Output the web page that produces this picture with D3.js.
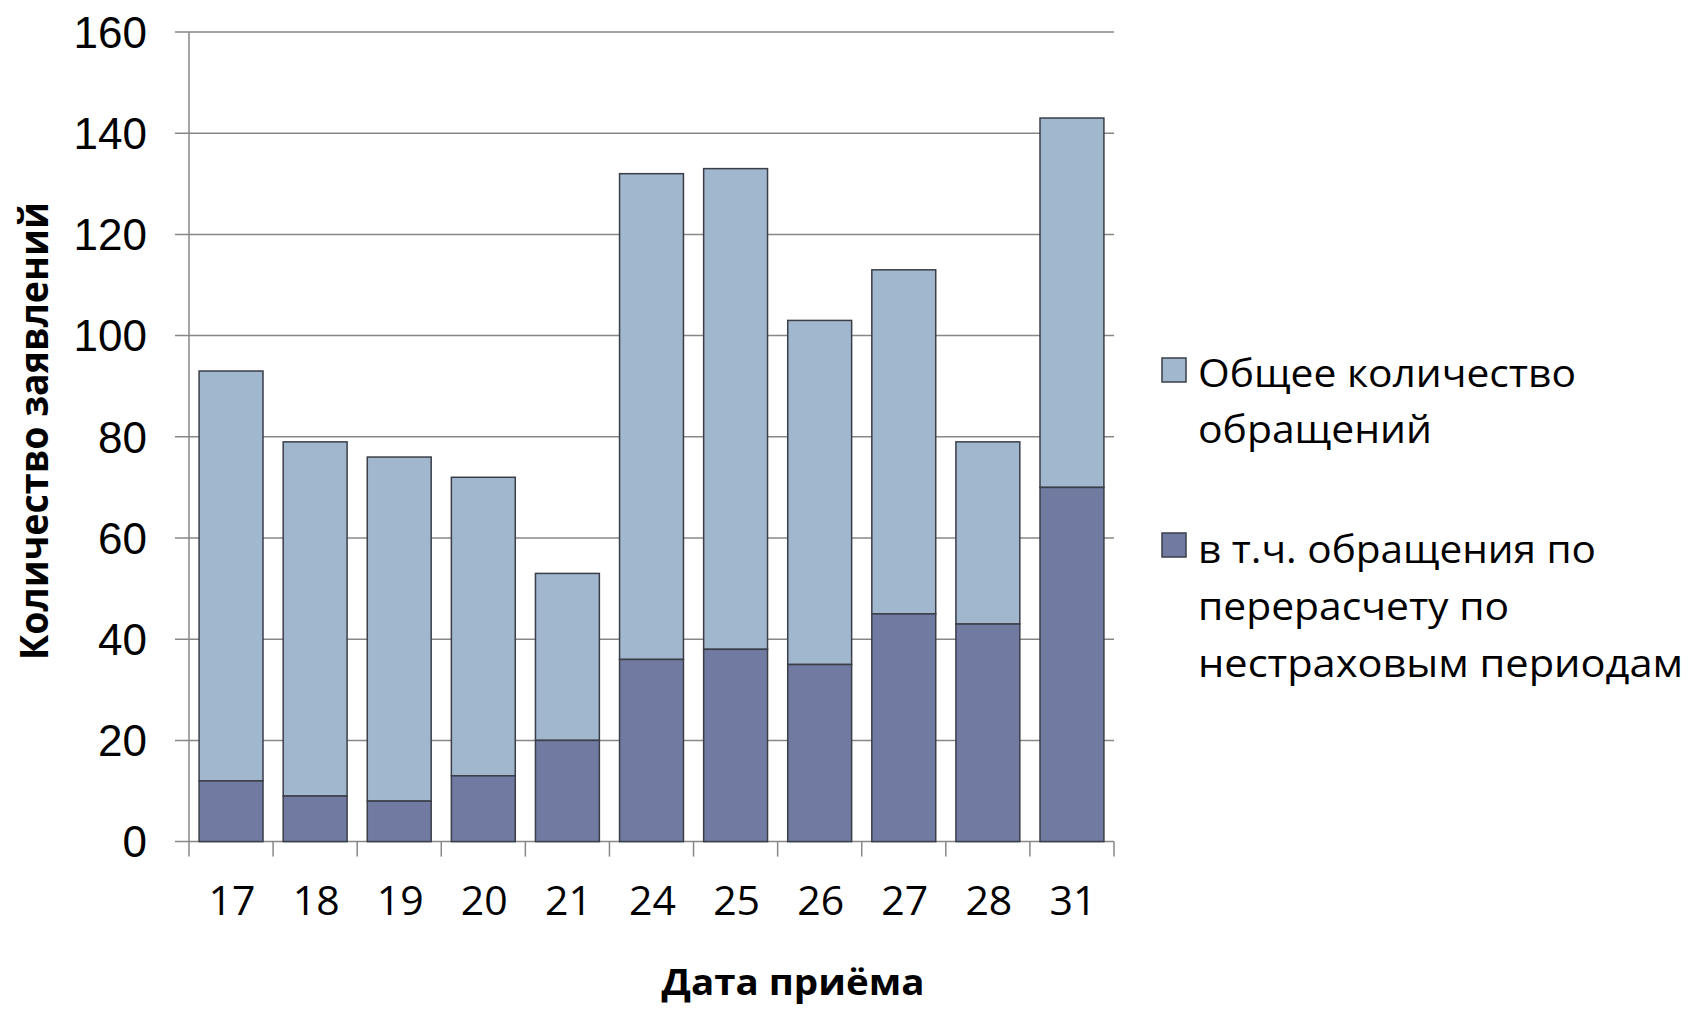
<!DOCTYPE html>
<html>
<head>
<meta charset="utf-8">
<script src="https://cdn.jsdelivr.net/npm/d3@7"></script>
<style>
  html, body { margin: 0; padding: 0; background: #fff; }
  svg { display: block; }
</style>
</head>
<body>
<svg id="chart" width="1691" height="1009"></svg>
<script>
// ---- Data ----
const categories = ["17", "18", "19", "20", "21", "24", "25", "26", "27", "28", "31"];
const totalRequests = [93, 79, 76, 72, 53, 132, 133, 103, 113, 79, 143];
const recalcRequests = [12, 9, 8, 13, 20, 36, 38, 35, 45, 43, 70];
const yTicks = [0, 20, 40, 60, 80, 100, 120, 140, 160];
const seriesNames = ["Общее количество обращений", "в т.ч. обращения по перерасчету по нестраховым периодам"];
const legendLines = [["Общее количество", "обращений"], ["в т.ч. обращения по", "перерасчету по", "нестраховым периодам"]];
const xTitle = "Дата приёма";
const yTitle = "Количество заявлений";

(function () {
// ---- Layout ----
const svg = d3.select("#chart");
const pLeft = 189, pRight = 1114, pTop = 32, pBottom = 841.6;
const colLight = "#A1B7CD", colDark = "#717AA0", stroke = "#3a3e48", gridCol = "#878787";

const x = d3.scaleBand().domain(categories).range([pLeft, pRight]).paddingInner(0.24).paddingOuter(0.12);
const y = d3.scaleLinear().domain([0, 160]).range([pBottom, pTop]);

// gridlines
svg.append("g").selectAll("line").data(yTicks).join("line")
  .attr("x1", pLeft - 14).attr("x2", pRight)
  .attr("y1", d => y(d)).attr("y2", d => y(d))
  .attr("stroke", gridCol).attr("stroke-width", 1.5);

// y axis line
svg.append("line").attr("x1", pLeft).attr("x2", pLeft).attr("y1", y(160)).attr("y2", y(0))
  .attr("stroke", gridCol).attr("stroke-width", 1.5);

// x ticks at band boundaries
const step = x.step();
const xTickPos = d3.range(categories.length + 1).map(i => pLeft + i * step);
svg.append("g").selectAll("line").data(xTickPos).join("line")
  .attr("x1", d => d).attr("x2", d => d)
  .attr("y1", y(0)).attr("y2", y(0) + 15)
  .attr("stroke", gridCol).attr("stroke-width", 1.5);

// y tick labels
svg.append("g").selectAll("text").data(yTicks).join("text")
  .attr("x", pLeft - 42).attr("y", d => y(d)).attr("dy", "0.36em")
  .attr("text-anchor", "end")
  .attr("font-family", "'Liberation Sans', Arial, sans-serif")
  .attr("font-size", 44).attr("fill", "#000")
  .text(d => d);

// bars
const data = categories.map((c, i) => ({ c, total: totalRequests[i], sub: recalcRequests[i] }));
svg.append("g").selectAll("rect").data(data).join("rect")
  .attr("x", d => x(d.c)).attr("width", x.bandwidth())
  .attr("y", d => y(d.total)).attr("height", d => y(d.sub) - y(d.total))
  .attr("fill", colLight).attr("stroke", stroke).attr("stroke-width", 1.5);
svg.append("g").selectAll("rect").data(data).join("rect")
  .attr("x", d => x(d.c)).attr("width", x.bandwidth())
  .attr("y", d => y(d.sub)).attr("height", d => y(0) - y(d.sub))
  .attr("fill", colDark).attr("stroke", stroke).attr("stroke-width", 1.5);

// x tick labels
svg.append("g").selectAll("text").data(categories).join("text")
  .attr("x", d => x(d) + x.bandwidth() / 2 + 1).attr("y", 915)
  .attr("text-anchor", "middle")
  .attr("font-family", "'Open Sans', sans-serif")
  .attr("font-size", 41).attr("fill", "#000")
  .text(d => d);

// axis titles
svg.append("text").attr("x", 793).attr("y", 995).attr("text-anchor", "middle")
  .attr("font-family", "'Open Sans', sans-serif").attr("font-weight", "bold")
  .attr("font-size", 36).attr("fill", "#000")
  .attr("textLength", 263).attr("lengthAdjust", "spacingAndGlyphs")
  .text(xTitle);
svg.append("text").attr("transform", "translate(48,431) rotate(-90)")
  .attr("text-anchor", "middle")
  .attr("font-family", "'Open Sans', sans-serif").attr("font-weight", "bold")
  .attr("font-size", 40).attr("fill", "#000")
  .attr("textLength", 458).attr("lengthAdjust", "spacingAndGlyphs")
  .text(yTitle);

// legend
const legendColors = [colLight, colDark];
const legendSquareY = [358, 533];
const legendBaselines = [[387, 443], [563, 620, 677]];
const legendWidths = [[378, 234], [398, 311, 485]];
const lg = svg.append("g");
legendLines.forEach((lines, i) => {
  lg.append("rect").attr("x", 1162).attr("y", legendSquareY[i]).attr("width", 24).attr("height", 24)
    .attr("fill", legendColors[i]).attr("stroke", stroke).attr("stroke-width", 1.5);
  lines.forEach((ln, j) => {
    lg.append("text").attr("x", 1198).attr("y", legendBaselines[i][j])
      .attr("font-family", "'Open Sans', sans-serif").attr("font-size", 39).attr("fill", "#000")
      .attr("textLength", legendWidths[i][j]).attr("lengthAdjust", "spacingAndGlyphs")
      .text(ln);
  });
});
})();
</script>
</body>
</html>
